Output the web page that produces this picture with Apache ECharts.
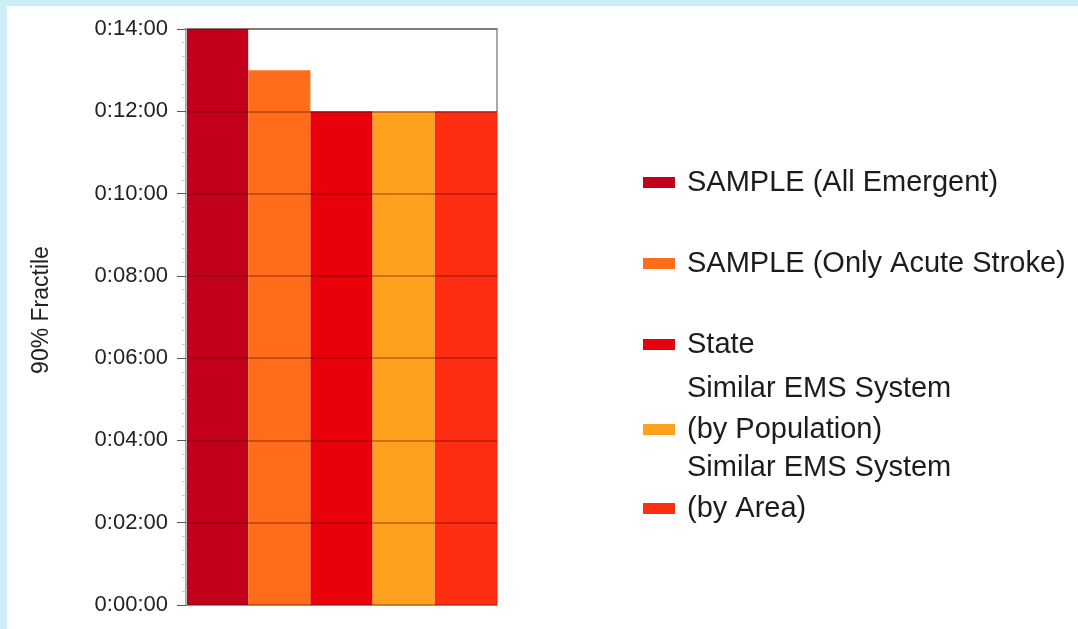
<!DOCTYPE html>
<html>
<head>
<meta charset="utf-8">
<title>90% Fractile</title>
<script src="https://cdn.jsdelivr.net/npm/echarts@6/dist/echarts.min.js"></script>
<style>
  html, body { margin: 0; padding: 0; width: 1078px; height: 629px; overflow: hidden; background: #cbeef7; }
  #paper { position: absolute; left: 7px; top: 6px; right: 0; bottom: 0; background: #ffffff; }
  #chart { position: absolute; left: 0; top: 0; width: 1078px; height: 629px; }
</style>
</head>
<body>
<div id="paper"></div>
<div id="chart"></div>
<script>
// Series (one bar each), 90% fractile response time in minutes
const seriesNames = [
  'SAMPLE (All Emergent)',
  'SAMPLE (Only Acute Stroke)',
  'State',
  'Similar EMS System\n(by Population)',
  'Similar EMS System\n(by Area)'
];
const minutes = [14, 13, 12, 12, 12];
const yTickLabels = ['0:00:00', '0:02:00', '0:04:00', '0:06:00', '0:08:00', '0:10:00', '0:12:00', '0:14:00'];

const palette = ['#c2001c', '#ff6d1a', '#e8000a', '#ffa11e', '#ff2d12'];
const legendTops = [162, 243, 324, 368, 447];
const FONT = "'Liberation Sans', Arial, sans-serif";

const chart = echarts.init(document.getElementById('chart'), null, { renderer: 'canvas' });

const series = seriesNames.map((name, i) => ({
  name: name,
  type: 'bar',
  stack: 'all',
  barCategoryGap: '0%',
  itemStyle: { color: palette[i] },
  data: minutes.map((v, j) => (j === i ? v : '-'))
}));

// one legend block per series so each entry sits at its own height;
// wrapped names get a blank trailing line so the swatch lines up with the last line
const legends = seriesNames.map((name, i) => ({
  data: [name],
  orient: 'vertical',
  left: 643,
  top: legendTops[i],
  padding: 0,
  itemWidth: 32,
  itemHeight: 11,
  icon: 'rect',
  selectedMode: false,
  formatter: n => (n.indexOf('\n') >= 0 ? n + '\n ' : n),
  textStyle: {
    fontFamily: FONT,
    fontSize: 29,
    lineHeight: 41,
    color: '#1c1c1c',
    padding: [0, 0, 0, 7]
  }
}));

chart.setOption({
  backgroundColor: 'transparent',
  animation: false,
  color: palette,
  legend: legends,
  grid: {
    left: 186,
    right: 581,
    top: 29,
    bottom: 24,
    show: true,
    borderColor: '#a9a9a9',
    borderWidth: 2,
    backgroundColor: 'transparent'
  },
  xAxis: {
    type: 'category',
    data: seriesNames,
    axisLine: { show: true, lineStyle: { color: '#c8c8c8', width: 1 } },
    axisTick: { show: false },
    axisLabel: { show: false }
  },
  yAxis: {
    type: 'value',
    z: 5,
    min: 0,
    max: 14,
    interval: 2,
    name: '90% Fractile',
    nameLocation: 'middle',
    nameRotate: 90,
    nameGap: 133,
    nameTextStyle: { fontFamily: FONT, fontSize: 23, color: '#222222', padding: [0, 0, 0, 14] },
    axisLine: { show: true, lineStyle: { color: '#bdbdbd', width: 1 } },
    axisTick: { show: true, length: 9, lineStyle: { color: '#555555', width: 1 } },
    minorTick: { show: true, splitNumber: 6, length: 4, lineStyle: { color: '#c4c4c4', width: 1 } },
    splitLine: { show: true, lineStyle: { color: 'rgba(70,0,0,0.4)', width: 1.5 } },
    axisLabel: {
      fontFamily: FONT,
      fontSize: 22,
      color: '#222222',
      margin: 18,
      formatter: v => yTickLabels[Math.round(v / 2)]
    }
  },
  series: series
});
</script>
</body>
</html>
